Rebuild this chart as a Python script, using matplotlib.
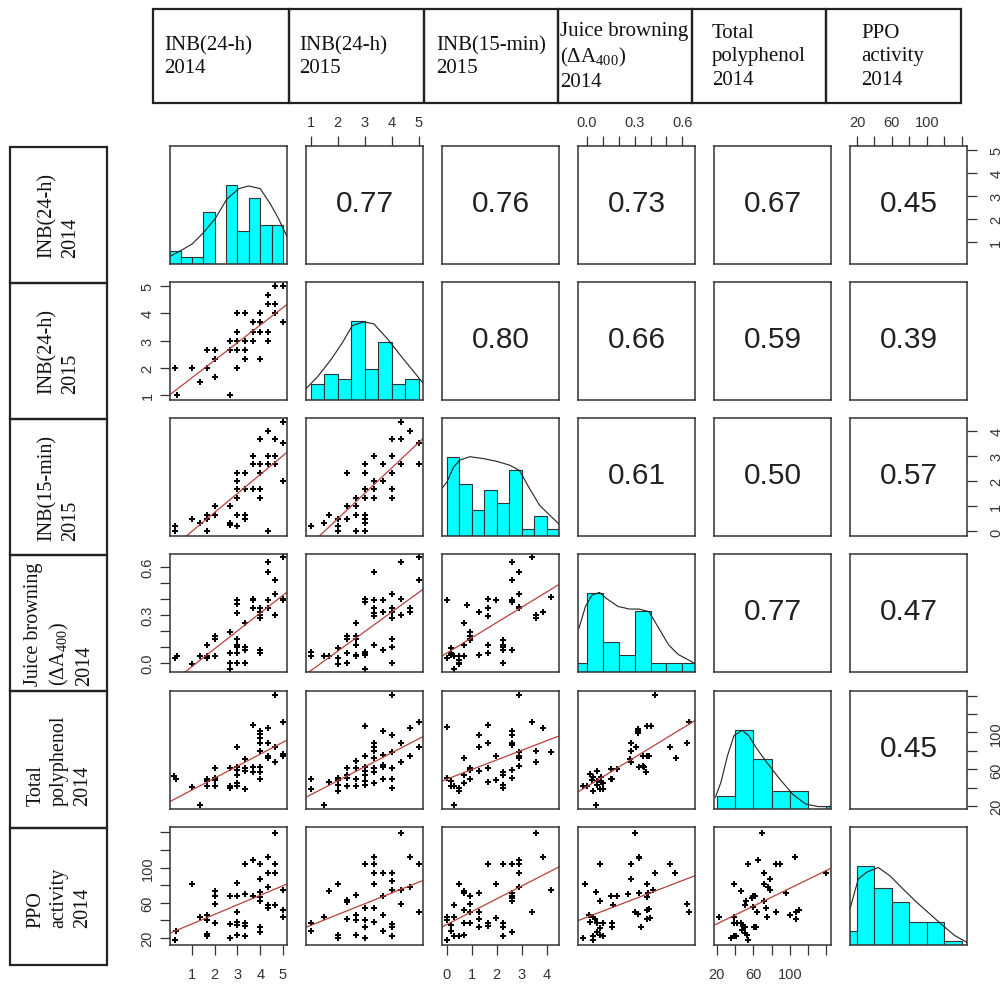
import numpy as np
import matplotlib
matplotlib.use("Agg")
import matplotlib.pyplot as plt
from matplotlib.patches import Rectangle

plt.rcParams['mathtext.fontset'] = 'custom'
plt.rcParams['mathtext.rm'] = 'Liberation Serif'

W, H = 1007, 987

names = ["INB(24-h)\n2014", "INB(24-h)\n2015", "INB(15-min)\n2015",
         "Juice browning\n(ΔA$_{400}$)\n2014", "Total\npolyphenol\n2014", "PPO\nactivity\n2014"]

# axis range of each variable
lims = [(0.03, 5.18), (0.83, 5.15), (-0.18, 4.5), (-0.057, 0.68), (17, 145), (12, 146)]
ticks = [[1, 2, 3, 4, 5], [1, 2, 3, 4, 5], [0, 1, 2, 3, 4],
         [0.0, 0.1, 0.2, 0.3, 0.4, 0.5, 0.6],
         [20, 40, 60, 80, 100, 120, 140], [20, 40, 60, 80, 100, 120, 140]]
tick_labels = [["1", "2", "3", "4", "5"], ["1", "2", "3", "4", "5"], ["0", "1", "2", "3", "4"],
               ["0.0", "", "", "0.3", "", "", "0.6"],
               ["20", "", "60", "", "100", "", ""], ["20", "", "60", "", "100", "", ""]]

# correlations, upper triangle row by row
corr_values = ["0.77", "0.76", "0.73", "0.67", "0.45",
               "0.80", "0.66", "0.59", "0.39",
               "0.61", "0.50", "0.57",
               "0.77", "0.47",
               "0.45"]

# histograms (bin edges, bar heights) and density curves for the diagonal
hist_edges = [[0, 0.5, 1, 1.5, 2, 2.5, 3, 3.5, 4, 4.5, 5],
              [1, 1.5, 2, 2.5, 3, 3.5, 4, 4.5, 5],
              [0, 0.5, 1, 1.5, 2, 2.5, 3, 3.5, 4, 4.5],
              [-0.1, 0.0, 0.1, 0.2, 0.3, 0.4, 0.5, 0.6, 0.7],
              [20, 40, 60, 80, 100, 120, 140, 160],
              [0, 20, 40, 60, 80, 100, 120, 140]]
hist_heights = [[2, 1, 1, 8, 0, 12, 5, 10, 6, 6],
                [3, 5, 4, 15, 6, 11, 3, 4],
                [12, 8, 4, 7, 5, 10, 1, 3, 1],
                [1, 9, 3.4, 1.9, 7, 1, 1, 1],
                [5, 30, 19, 7, 7, 0, 1],
                [3.6, 20, 14.6, 11, 5.8, 5.8, 1]]
dens_x = [[0.03, 0.5, 1.01, 1.52, 2.03, 2.54, 3.06, 3.49, 4.0, 4.44, 4.81, 5.19],
          [0.84, 1.25, 1.74, 2.17, 2.54, 2.97, 3.34, 3.83, 4.32, 4.81, 5.16],
          [-0.18, 0.02, 0.28, 0.54, 0.94, 1.48, 2.0, 2.53, 2.92, 3.32, 3.72, 4.12, 4.48],
          [-0.051, -0.01, 0.031, 0.078, 0.123, 0.195, 0.267, 0.329, 0.39, 0.452, 0.514, 0.575, 0.672],
          [18.6, 24.6, 31.8, 38.9, 47.8, 54.9, 63.8, 74.5, 88.7, 103, 117.2, 131.5, 143.9],
          [12, 21.5, 31.1, 44.3, 57.7, 72.9, 88.2, 103.4, 118.6, 132, 145.7]]
dens_y = [[1.17, 2.04, 3.06, 4.84, 6.98, 9.94, 11.5, 11.9, 11.5, 9.2, 6.9, 4.1],
          [2.2, 4.4, 7.6, 10.9, 14.2, 14.9, 14.5, 11.7, 8.5, 5.4, 3.15],
          [7.25, 8.26, 10.5, 11.6, 12.1, 11.8, 11.4, 10.8, 10.0, 7.25, 4.7, 3.2, 1.9],
          [5.0, 7.5, 8.8, 9.1, 8.4, 7.5, 7.2, 7.2, 6.9, 5.0, 3.1, 2.0, 1.05],
          [4.5, 10.2, 20.4, 28, 30, 28, 23, 17.9, 11.5, 5.7, 1.9, 0.9, 0.9],
          [9.2, 16.8, 18.5, 19.7, 17.6, 14.2, 10.9, 7.9, 4.9, 2.4, 0.7]]

# scatter panels (x, y) : row variable on y, column variable on x
s21 = [(4.67, 5), (5, 5), (4.33, 4.67), (4.33, 4.33), (4.67, 4.33), (4.67, 4), (3, 4), (3.33, 4), (4, 4),
       (3.67, 3.67), (4, 3.67), (5, 3.67), (3, 3.33), (3.67, 3.33), (4, 3.33), (4.33, 3.33), (2.67, 3),
       (3, 3), (3.33, 3), (3.67, 3), (4.33, 3), (1.67, 2.67), (2, 2.67), (2.67, 2.67), (3, 2.67),
       (3.33, 2.67), (2, 2.33), (3.33, 2.33), (4, 2.33), (0.25, 2), (1, 2), (1.67, 2), (3, 2),
       (1.33, 1.5), (2, 1.67), (0.33, 1), (2.67, 1)]
s31 = [(5, 4.33), (4.33, 4), (4, 3.67), (4.67, 3.67), (5, 3.5), (3.67, 3), (4.33, 3), (4.67, 3),
       (3.67, 2.67), (4, 2.67), (4.33, 2.67), (4.67, 2.67), (4, 2.33), (3, 2.33), (3.33, 2.33), (3, 2),
       (5, 2), (3, 1.67), (3.33, 1.67), (3.67, 1.67), (4, 1.67), (4, 1.33), (3, 1.33), (2, 1), (2.67, 1),
       (1.67, 0.67), (2, 0.67), (3, 0.67), (3.33, 0.67), (1, 0.5), (1.67, 0.5), (3.33, 0.5), (1.33, 0.33),
       (2.67, 0.33), (2.67, 0.25), (3, 0.2), (0.25, 0.2), (0.25, 0), (1.67, 0), (4.33, 0)]
s32 = [(4.33, 4.33), (4.67, 4), (4, 3.67), (4.33, 3.67), (5, 3.5), (3.33, 3), (4, 3), (3, 2.67),
       (3.67, 2.67), (4.33, 2.67), (5, 2.67), (2.33, 2.33), (3, 2.33), (4, 2.33), (3.33, 2), (3.67, 2),
       (3, 1.67), (3.33, 1.67), (4, 1.67), (2.67, 1.33), (3, 1.33), (3.33, 1.33), (4, 1.33), (2.33, 1),
       (2.67, 1), (1.67, 0.67), (2.67, 0.67), (3, 0.67), (2, 0.5), (2.33, 0.5), (3, 0.5), (1.5, 0.33),
       (2, 0.2), (3, 0.33), (1, 0.2), (2, 0), (2.67, 0), (3, 0)]
s41 = [(5, 0.66), (4.33, 0.63), (4.33, 0.57), (4.67, 0.52), (4.67, 0.43), (3, 0.39), (3, 0.37),
       (3.67, 0.40), (3.67, 0.39), (4.33, 0.39), (3.67, 0.34), (4, 0.34), (4, 0.32), (4.33, 0.34),
       (3, 0.31), (4.67, 0.30), (4, 0.30), (4, 0.28), (5, 0.40), (5, 0.39), (3.33, 0.25), (2, 0.17),
       (2, 0.15), (2.67, 0.19), (2, 0.04), (1.67, 0.11), (1.67, 0.04), (1.67, 0.03), (1.33, 0.04),
       (1, -0.01), (2.67, 0.06), (3, 0.15), (3, 0.11), (3, 0.10), (3.33, 0.10), (3.33, 0.08), (3, 0.06),
       (2.67, 0.00), (3, 0.00), (3.33, 0.00), (4, 0.08), (4, 0.06), (2.67, -0.04), (0.25, 0.03),
       (0.33, 0.04)]
s42 = [(5, 0.66), (4.33, 0.63), (3.33, 0.57), (5, 0.52), (4, 0.43), (3, 0.40), (3, 0.38), (3.33, 0.39),
       (3.67, 0.39), (4.33, 0.40), (3.33, 0.34), (3.33, 0.31), (3.33, 0.29), (3.67, 0.32), (4, 0.34),
       (4, 0.32), (4.67, 0.34), (4.67, 0.32), (4, 0.28), (4.33, 0.30), (2.67, 0.25), (2.33, 0.17),
       (2.33, 0.15), (2.67, 0.17), (2.67, 0.15), (3.33, 0.11), (3.67, 0.08), (4, 0.10), (4, 0.15),
       (2, 0.09), (2.33, 0.06), (2.67, 0.11), (1, 0.07), (1, 0.04), (1.5, 0.04), (1.67, 0.04), (2, 0.03),
       (2, -0.01), (2.33, 0.00), (2.67, 0.05), (2.67, 0.04), (3, 0.07), (3, 0.05), (3, -0.04), (4, 0.00),
       (3, 0.06)]
s43 = [(3.4, 0.66), (2.6, 0.63), (2.9, 0.57), (2.6, 0.52), (2.9, 0.43), (0, 0.39), (0.8, 0.36),
       (1.66, 0.40), (1.97, 0.39), (2.6, 0.39), (2.6, 0.38), (1.31, 0.32), (1.66, 0.34), (1.66, 0.29),
       (2.9, 0.34), (2.9, 0.35), (3.59, 0.30), (3.59, 0.28), (3.87, 0.32), (4.17, 0.41), (0.7, 0.25),
       (0.95, 0.19), (0.95, 0.17), (0.95, 0.15), (0.95, 0.145), (0.7, 0.11), (1.31, 0.05), (1.66, 0.11),
       (1.66, 0.06), (2.26, 0.145), (2.26, 0.11), (2.26, 0.10), (2.26, 0.08), (2.6, 0.08), (2.26, 0.00),
       (0.17, 0.09), (0.17, 0.06), (0, 0.03), (0.29, 0.04), (0.51, 0.04), (0.17, 0.05), (0.51, 0.015),
       (0.51, 0.00), (0.51, -0.01), (0.7, 0.04), (0.29, -0.04)]
s51 = [(4.67, 141), (3.67, 108), (4.33, 105), (5, 111), (4, 102), (4, 98), (4, 93.5), (4, 89), (4.33, 89),
       (3, 84), (4, 80), (4.33, 75), (4.33, 72), (4.67, 84.5), (5, 77), (5, 74), (3.33, 71), (2.67, 61),
       (3, 63), (3, 59), (3, 54), (3.33, 61), (3.33, 58), (2, 61), (3.67, 63), (4, 63), (3.67, 57.5),
       (4, 57.5), (4, 49.5), (1.67, 50), (1.67, 47), (2, 51), (2, 48), (1.67, 42), (2, 42), (2.67, 42),
       (2.67, 40), (3, 45), (3, 42), (3.33, 39), (1, 40.5), (0.2, 53), (0.28, 49.5), (1.33, 21.5),
       (4.67, 68)]
s52 = [(4, 141), (3, 106.5), (3.67, 102), (4, 97), (4.67, 104.5), (5, 111), (3.33, 89), (3.33, 84.5),
       (4.33, 89), (3, 75), (2.67, 69), (3.33, 80), (3.33, 72), (3.67, 75.5), (4, 79), (4.33, 68),
       (4.67, 75), (5, 84), (2.33, 61), (2.67, 61), (3, 63), (3, 58), (3, 54), (3.33, 61), (3.33, 57),
       (3.67, 62.5), (4, 62), (1.67, 46), (2, 51), (2, 48), (2, 43), (2, 37), (2.33, 51), (2.33, 42),
       (2.67, 50), (2.67, 42), (3, 43), (3, 47), (3.33, 45), (3.67, 50), (3.67, 65), (4, 50), (4, 40),
       (1, 49.5), (1, 39), (1.5, 21.5), (2.33, 54)]
s53 = [(2.9, 141), (0, 106), (1.66, 108), (2.6, 101.5), (3.4, 111.5), (3.87, 105), (1.31, 97),
       (1.31, 84.5), (1.66, 89), (2.6, 97), (2.6, 89), (2.6, 86), (0.7, 72), (1.97, 74), (2.9, 79),
       (3.59, 80), (3.59, 68), (4.17, 78.5), (2.9, 75), (2.9, 72), (2.26, 57), (2.26, 54), (2.6, 59.5),
       (2.6, 50.5), (0.95, 62), (0.95, 59), (1.31, 58), (1.66, 62), (1.66, 46), (1.97, 48.5), (2.26, 43),
       (2.26, 39.5), (0, 50.5), (0.17, 47), (0.7, 54), (0.95, 50), (0.17, 42), (0.29, 42), (0.51, 39.5),
       (0.51, 36), (0.7, 45), (2.9, 63.5), (0.29, 21.5)]
s54 = [(0.43, 141), (0.40, 107), (0.38, 107), (0.32, 104), (0.32, 101.5), (0.32, 99), (0.64, 111),
       (0.28, 89), (0.28, 80), (0.31, 84), (0.27, 71), (0.28, 68), (0.35, 75), (0.38, 75), (0.39, 74),
       (0.33, 63), (0.35, 64), (0.36, 63), (0.37, 57.5), (0.37, 57), (0.52, 84), (0.56, 72), (0.63, 89),
       (0.15, 60.5), (0.19, 60.5), (0.16, 50), (0.15, 50), (0.09, 52), (0.06, 58), (0.02, 55.5),
       (0.04, 52), (0.03, 48.5), (0.06, 47.5), (0.09, 46.5), (0.06, 43), (0.10, 45), (-0.025, 42),
       (0.00, 42), (0.035, 36), (0.08, 38.5), (0.10, 38.5), (0.055, 21.5)]
s61 = [(4.67, 139), (3.33, 104), (4, 104), (4.33, 112), (4.67, 104), (3.67, 108.5), (1, 81), (3, 82),
       (4.33, 94), (4.67, 94), (4, 86.5), (4.33, 78), (4, 72.5), (4, 62.5), (2, 73.5), (2, 68), (2, 59),
       (3, 68), (3.33, 70), (2.67, 68), (3.67, 68), (4, 66), (4.33, 57.5), (4.33, 54), (4.67, 57.5),
       (5, 74.5), (5, 51.5), (5, 44), (1.33, 44), (1.67, 46), (1.67, 40), (2, 37.5), (2.67, 35.5), (3, 50),
       (3, 38.5), (3, 35), (3, 23.5), (3.33, 37.5), (3.33, 33.5), (3.33, 22), (2.67, 20), (4, 33),
       (4, 26.5), (1.67, 24.5), (1.67, 22), (0.28, 28), (0.25, 18)]
s62 = [(4.33, 139), (3.33, 104), (3.33, 112), (3.33, 94), (3, 104), (4.67, 112), (5, 104), (2, 81),
       (1.67, 73.5), (2.33, 60.5), (2.33, 63.5), (2.67, 68.5), (3.33, 81), (3.67, 94), (4, 94), (4, 84.5),
       (4.33, 74.5), (4.33, 59), (4.67, 78), (3.33, 54), (3, 54), (3.67, 68), (4, 74.5), (5, 50),
       (1, 36.5), (1, 28), (1.5, 44), (2.33, 41.5), (2.67, 46), (2.67, 40), (3, 40), (3, 33), (3.33, 38.5),
       (3.67, 46), (4, 35.5), (4, 33), (4, 22), (3.67, 27.5), (2, 23.5), (2, 20), (2.67, 23), (3, 20)]
s63 = [(3.59, 139), (3.87, 112), (2.9, 104), (2.6, 104), (2.26, 104), (1.66, 104), (2.9, 108.5),
       (2.9, 94), (0.51, 81), (1.97, 81), (2.6, 71.5), (2.6, 68), (2.6, 65), (0.7, 73.5), (0.7, 71.5),
       (0.95, 68), (1.31, 71.5), (2.9, 78), (3.4, 50), (4.17, 74.5), (0.95, 59), (0.29, 57), (0.7, 51.5),
       (0.95, 49.5), (1.31, 49), (2.6, 62.5), (1.97, 43), (2.26, 36.5), (2.26, 33), (2.26, 22), (0, 44),
       (0.17, 35), (0, 40), (0.17, 28), (0.29, 44), (0.7, 37.5), (0.95, 37.5), (1.31, 41.5), (1.31, 33),
       (1.66, 36.5), (1.66, 34), (2.6, 26.5), (0, 18), (0.29, 22), (0.51, 22), (0.7, 23.5)]
s64 = [(0.30, 139), (0.33, 112), (0.325, 110.5), (0.28, 104), (0.08, 104), (0.52, 104), (0.555, 94),
       (0.43, 94), (0.28, 86.5), (0.38, 81), (0.415, 74.5), (0.385, 71.5), (0.33, 71.5), (-0.01, 81),
       (0.055, 72.5), (0.15, 68), (0.19, 68), (0.26, 70), (0.375, 66), (0.08, 62.5), (0.165, 57.5),
       (0.63, 59), (0.645, 50), (0.30, 49.5), (0.32, 47.5), (0.375, 51.5), (0.39, 53), (0.395, 43),
       (0.38, 41.5), (0.34, 33), (0.01, 46), (0.035, 44), (0.05, 41.5), (0.02, 38.5), (0.06, 36.5),
       (0.10, 36.5), (0.08, 31), (0.155, 36.5), (0.155, 33), (0.06, 26.5), (0.08, 23.5), (0.10, 22.5),
       (-0.025, 20.5), (0.035, 18), (0.035, 22)]
s65 = [(69, 139), (65, 108.5), (54, 104), (85, 104), (89.5, 104), (105.5, 112), (71.5, 94), (78, 86.5),
       (71.5, 81), (76, 78), (78, 74.5), (60, 68), (59, 65), (62, 68), (46, 73.5), (39, 81), (52, 62.5),
       (71.5, 62.5), (96, 71.5), (39, 44), (51, 57.5), (60, 55), (64, 49.5), (73.5, 54), (84.5, 49.5),
       (75, 44), (100, 46), (107, 49.5), (110, 51.5), (107, 41.5), (23, 44), (39, 36.5), (42.5, 36.5),
       (46, 36.5), (49, 34), (51, 33), (61, 33), (62.5, 33), (48, 29), (50.5, 25.5), (53, 23.5),
       (41.5, 22), (35.5, 20.5), (39, 22), (54, 18), (140, 94)]

scatter_sets = {(1, 0): s21, (2, 0): s31, (2, 1): s32, (3, 0): s41, (3, 1): s42, (3, 2): s43,
                (4, 0): s51, (4, 1): s52, (4, 2): s53, (4, 3): s54,
                (5, 0): s61, (5, 1): s62, (5, 2): s63, (5, 3): s64, (5, 4): s65}

# layout in pixels
col_left = [170, 306, 442, 578, 714, 850]
row_top = [147, 283, 419, 555, 692, 828]
pw, ph = 117, 118
head_edges = [153, 289, 424, 558, 692, 826, 961]
side_edges = [148, 284, 420, 556, 692, 829, 966]
head_text_x = [208, 343, 491, 624, 759, 893]

fig = plt.figure(figsize=(W / 100, H / 100), dpi=100)


def px_axes(x, y, w, h):
    return fig.add_axes([x / W, 1 - (y + h) / H, w / W, h / H])


tick_kw = dict(length=7, width=0.9, color='#333333', labelsize=10.5, labelcolor='#333333')
serif = 'Liberation Serif'
sans = 'Liberation Sans'

corr_iter = iter(corr_values)
corr_cells = {}
for i in range(6):
    for j in range(i + 1, 6):
        corr_cells[(i, j)] = next(corr_iter)

for i in range(6):
    for j in range(6):
        ax = px_axes(col_left[j], row_top[i], pw, ph)
        ax.set_xlim(lims[j])
        if i == j:
            e = hist_edges[i]
            h = hist_heights[i]
            ax.bar(e[:-1], h, width=np.diff(e), align='edge', color='#00FFFF',
                   edgecolor='#333333', linewidth=0.8)
            ax.plot(dens_x[i], dens_y[i], color='#222222', lw=0.8)
            ax.set_ylim(0, 1.5 * max(h))
        elif i > j:
            pts = np.array(scatter_sets[(i, j)], dtype=float)
            ax.plot(pts[:, 0], pts[:, 1], 'P', ms=4.2, color='black', mew=0)
            k, b = np.polyfit(pts[:, 0], pts[:, 1], 1)
            xs = np.array(lims[j])
            ax.plot(xs, b + k * xs, color='#b8413d', lw=0.9)
            ax.set_ylim(lims[i])
        else:
            ax.set_ylim(lims[i])
            ax.text(0.5, 0.52, corr_cells[(i, j)], transform=ax.transAxes, ha='center',
                    va='center', fontsize=21.5, family=sans, color='#222222')
        for s in ax.spines.values():
            s.set_color('#333333')
            s.set_linewidth(1.1)
        ax.set_xticks([])
        ax.set_yticks([])

        if i == 0 and j % 2 == 1:
            ax.set_xticks(ticks[j])
            ax.set_xticklabels(tick_labels[j], family=sans)
            ax.tick_params(axis='x', top=True, bottom=False, labeltop=True,
                           labelbottom=False, pad=5, **tick_kw)
        if i == 5 and j % 2 == 0:
            ax.set_xticks(ticks[j])
            ax.set_xticklabels(tick_labels[j], family=sans)
            ax.tick_params(axis='x', pad=9, **tick_kw)
        if j == 0 and i % 2 == 1:
            ax.set_yticks(ticks[i])
            ax.set_yticklabels(tick_labels[i], family=sans, rotation=90, va='center')
            ax.tick_params(axis='y', pad=4, **tick_kw)
        if j == 5 and i % 2 == 0:
            ax.set_yticks(ticks[i])
            ax.set_yticklabels(tick_labels[i], family=sans, rotation=90, va='center')
            ax.tick_params(axis='y', left=False, right=True, labelleft=False,
                           labelright=True, pad=9, **tick_kw)

# label boxes along top and left
frame = fig.add_axes([0, 0, 1, 1], zorder=-1)
frame.set_xlim(0, W)
frame.set_ylim(H, 0)
frame.axis('off')
for k in range(6):
    x0, x1 = head_edges[k], head_edges[k + 1]
    frame.add_patch(Rectangle((x0, 10), x1 - x0, 94, fill=False, ec='#222222', lw=1.6))
    frame.text(head_text_x[k], 57, names[k], ha='center', va='center', multialignment='left',
               family=serif, fontsize=15, color='#111111', linespacing=1.3)
    y0, y1 = side_edges[k], side_edges[k + 1]
    frame.add_patch(Rectangle((10, y0), 97, y1 - y0, fill=False, ec='#222222', lw=1.6))
    frame.text(59, (y0 + y1) / 2, names[k], ha='center', va='center', multialignment='left',
               rotation=90, family=serif, fontsize=14.5, color='#111111', linespacing=1.3)

fig.savefig('out.png', dpi=100)
